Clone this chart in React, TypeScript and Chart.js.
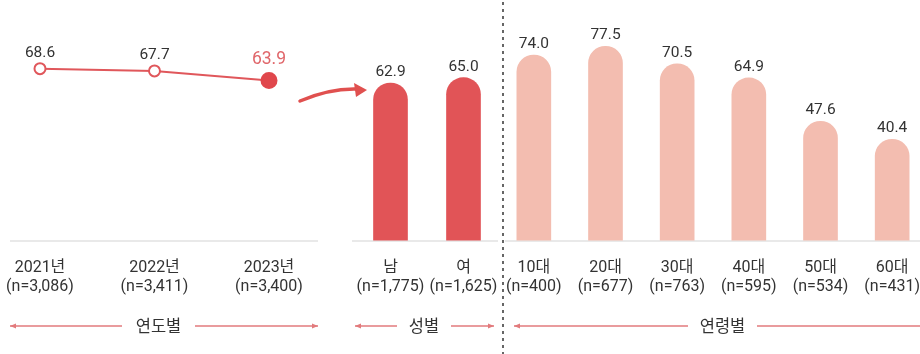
import React, { useEffect, useRef } from "react";
import { Chart, registerables } from "chart.js";

Chart.register(...registerables);

const FONT = 'Roboto, "Noto Sans CJK KR", "Noto Sans", sans-serif';

const yearLabels = [["2021년", "(n=3,086)"], ["2022년", "(n=3,411)"], ["2023년", "(n=3,400)"]];
const yearValues = [68.6, 67.7, 63.9];

const genderLabels = [["남", "(n=1,775)"], ["여", "(n=1,625)"]];
const genderValues = [62.9, 65.0];

const ageLabels = [
  ["10대", "(n=400)"],
  ["20대", "(n=677)"],
  ["30대", "(n=763)"],
  ["40대", "(n=595)"],
  ["50대", "(n=534)"],
  ["60대", "(n=431)"],
];
const ageValues = [74.0, 77.5, 70.5, 64.9, 47.6, 40.4];

const groupTitles = ["연도별", "성별", "연령별"];

const Y_MAX = 96;
const LINE_RED = "#E0575B";
const BAR_RED = "#E15457";
const BAR_PINK = "#F3BDB0";

const baselinePlugin = {
  id: "baseline",
  beforeDatasetsDraw(chart: any, _args: any, opts: any) {
    const { ctx } = chart;
    const y = chart.scales.y.getPixelForValue(0);
    ctx.save();
    ctx.strokeStyle = "#E2E2E2";
    ctx.lineWidth = 1.5;
    ctx.beginPath();
    ctx.moveTo(opts.from, y + 0.5);
    ctx.lineTo(opts.to, y + 0.5);
    ctx.stroke();
    ctx.restore();
  },
};

const valueLabelPlugin = {
  id: "valueLabels",
  afterDatasetsDraw(chart: any, _args: any, opts: any) {
    const { ctx } = chart;
    const ds = chart.data.datasets[0];
    const meta = chart.getDatasetMeta(0);
    ctx.save();
    ctx.textAlign = "center";
    ctx.textBaseline = "alphabetic";
    meta.data.forEach((el: any, i: number) => {
      const v = ds.data[i] as number;
      const hi = opts.highlight === i;
      ctx.fillStyle = hi ? "#E0666A" : "#333";
      ctx.font = `${hi ? 17.5 : 15.5}px ${FONT}`;
      const off = hi ? opts.hiOffset : opts.offset;
      ctx.fillText(v.toFixed(1), el.x, el.y - off);
    });
    ctx.restore();
  },
};

function commonScales() {
  return {
    x: {
      grid: { display: false, drawTicks: false },
      border: { display: false },
      ticks: {
        color: "#333",
        font: { family: FONT, size: 16, lineHeight: 1.2 },
        padding: 18,
        maxRotation: 0,
        autoSkip: false,
      },
    },
    y: {
      display: false,
      min: 0,
      max: Y_MAX,
    },
  };
}

function useChart(ref: React.RefObject<HTMLCanvasElement>, build: () => any) {
  useEffect(() => {
    if (!ref.current) return;
    const chart = new Chart(ref.current, build());
    return () => chart.destroy();
  }, []);
}

function LineChart() {
  const ref = useRef<HTMLCanvasElement>(null);
  useChart(ref, () => ({
    type: "line",
    data: {
      labels: yearLabels,
      datasets: [
        {
          data: yearValues,
          borderColor: LINE_RED,
          borderWidth: 2,
          pointRadius: [5.5, 5.5, 7.5],
          pointBackgroundColor: ["#fff", "#fff", "#E0474C"],
          pointBorderColor: [LINE_RED, LINE_RED, "#E0474C"],
          pointBorderWidth: 2,
          tension: 0,
          clip: false,
        },
      ],
    },
    options: {
      animation: false,
      responsive: false,
      events: [],
      layout: { autoPadding: false, padding: { left: 80, right: 91, top: 0, bottom: 39 } },
      plugins: {
        legend: { display: false },
        tooltip: { enabled: false },
        baseline: { from: 50, to: 358 },
        valueLabels: { offset: 12, hiOffset: 16, highlight: 2 },
      },
      scales: {
        ...commonScales(),
        x: { ...commonScales().x, offset: false },
      },
    },
    plugins: [baselinePlugin, valueLabelPlugin],
  }));
  return (
    <canvas
      ref={ref}
      width={400}
      height={354}
      style={{ position: "absolute", left: -40, top: 0, width: 400, height: 354 }}
    />
  );
}

function BarChart(props: {
  labels: string[][];
  values: number[];
  color: string;
  left: number;
  width: number;
  padLeft: number;
  padRight: number;
  from: number;
  to: number;
}) {
  const ref = useRef<HTMLCanvasElement>(null);
  useChart(ref, () => ({
    type: "bar",
    data: {
      labels: props.labels,
      datasets: [
        {
          data: props.values,
          backgroundColor: props.color,
          barThickness: 34,
          borderRadius: { topLeft: 17, topRight: 17, bottomLeft: 0, bottomRight: 0 },
          borderSkipped: false,
        },
      ],
    },
    options: {
      animation: false,
      responsive: false,
      events: [],
      layout: { padding: { left: props.padLeft, right: props.padRight, top: 0, bottom: 39 } },
      plugins: {
        legend: { display: false },
        tooltip: { enabled: false },
        baseline: { from: props.from, to: props.to },
        valueLabels: { offset: 7, hiOffset: 7, highlight: -1 },
      },
      scales: commonScales(),
    },
    plugins: [baselinePlugin, valueLabelPlugin],
  }));
  return (
    <canvas
      ref={ref}
      width={props.width}
      height={354}
      style={{ position: "absolute", left: props.left, top: 0, width: props.width, height: 354 }}
    />
  );
}

function Bracket(props: { x1: number; x2: number; tx1: number; tx2: number; label: string; arrowRight: boolean }) {
  const y = 326;
  const c = "#E27A7C";
  return (
    <g>
      <line x1={props.x1} y1={y} x2={props.tx1} y2={y} stroke={c} strokeWidth={1.5} />
      <polygon points={`${props.x1},${y} ${props.x1 + 6},${y - 2.5} ${props.x1 + 6},${y + 2.5}`} fill={c} />
      <text
        x={(props.tx1 + props.tx2) / 2}
        y={y + 6}
        textAnchor="middle"
        fontSize={16.5}
        fill="#333"
        fontFamily={FONT}
      >
        {props.label}
      </text>
      <line x1={props.tx2} y1={y} x2={props.x2} y2={y} stroke={c} strokeWidth={1.5} />
      {props.arrowRight && (
        <polygon points={`${props.x2},${y} ${props.x2 - 6},${y - 2.5} ${props.x2 - 6},${y + 2.5}`} fill={c} />
      )}
    </g>
  );
}

export default function App() {
  return (
    <div
      style={{
        position: "fixed",
        left: 0,
        top: 0,
        width: 920,
        height: 354,
        overflow: "hidden",
        background: "#fff",
      }}
    >
      <LineChart />
      <BarChart
        labels={genderLabels}
        values={genderValues}
        color={BAR_RED}
        left={300}
        width={240}
        padLeft={54}
        padRight={40}
        from={52}
        to={198}
      />
      <BarChart
        labels={ageLabels}
        values={ageValues}
        color={BAR_PINK}
        left={460}
        width={510}
        padLeft={38}
        padRight={42}
        from={45}
        to={470}
      />
      <svg
        width={920}
        height={354}
        style={{ position: "absolute", left: 0, top: 0, pointerEvents: "none" }}
      >
        <line x1={503} y1={2} x2={503} y2={354} stroke="#666" strokeWidth={2} strokeDasharray="3 4" />
        <path d="M300 101 Q330 88 358 89" stroke="#E0504F" strokeWidth={3.5} fill="none" strokeLinecap="round" />
        <polygon points="367,90 354,83 356,97" fill="#E0504F" />
        <Bracket x1={10} x2={318} tx1={122} tx2={195} label={groupTitles[0]} arrowRight />
        <Bracket x1={355} x2={494} tx1={397} tx2={451} label={groupTitles[1]} arrowRight />
        <Bracket x1={514} x2={935} tx1={688} tx2={757} label={groupTitles[2]} arrowRight={false} />
      </svg>
    </div>
  );
}
